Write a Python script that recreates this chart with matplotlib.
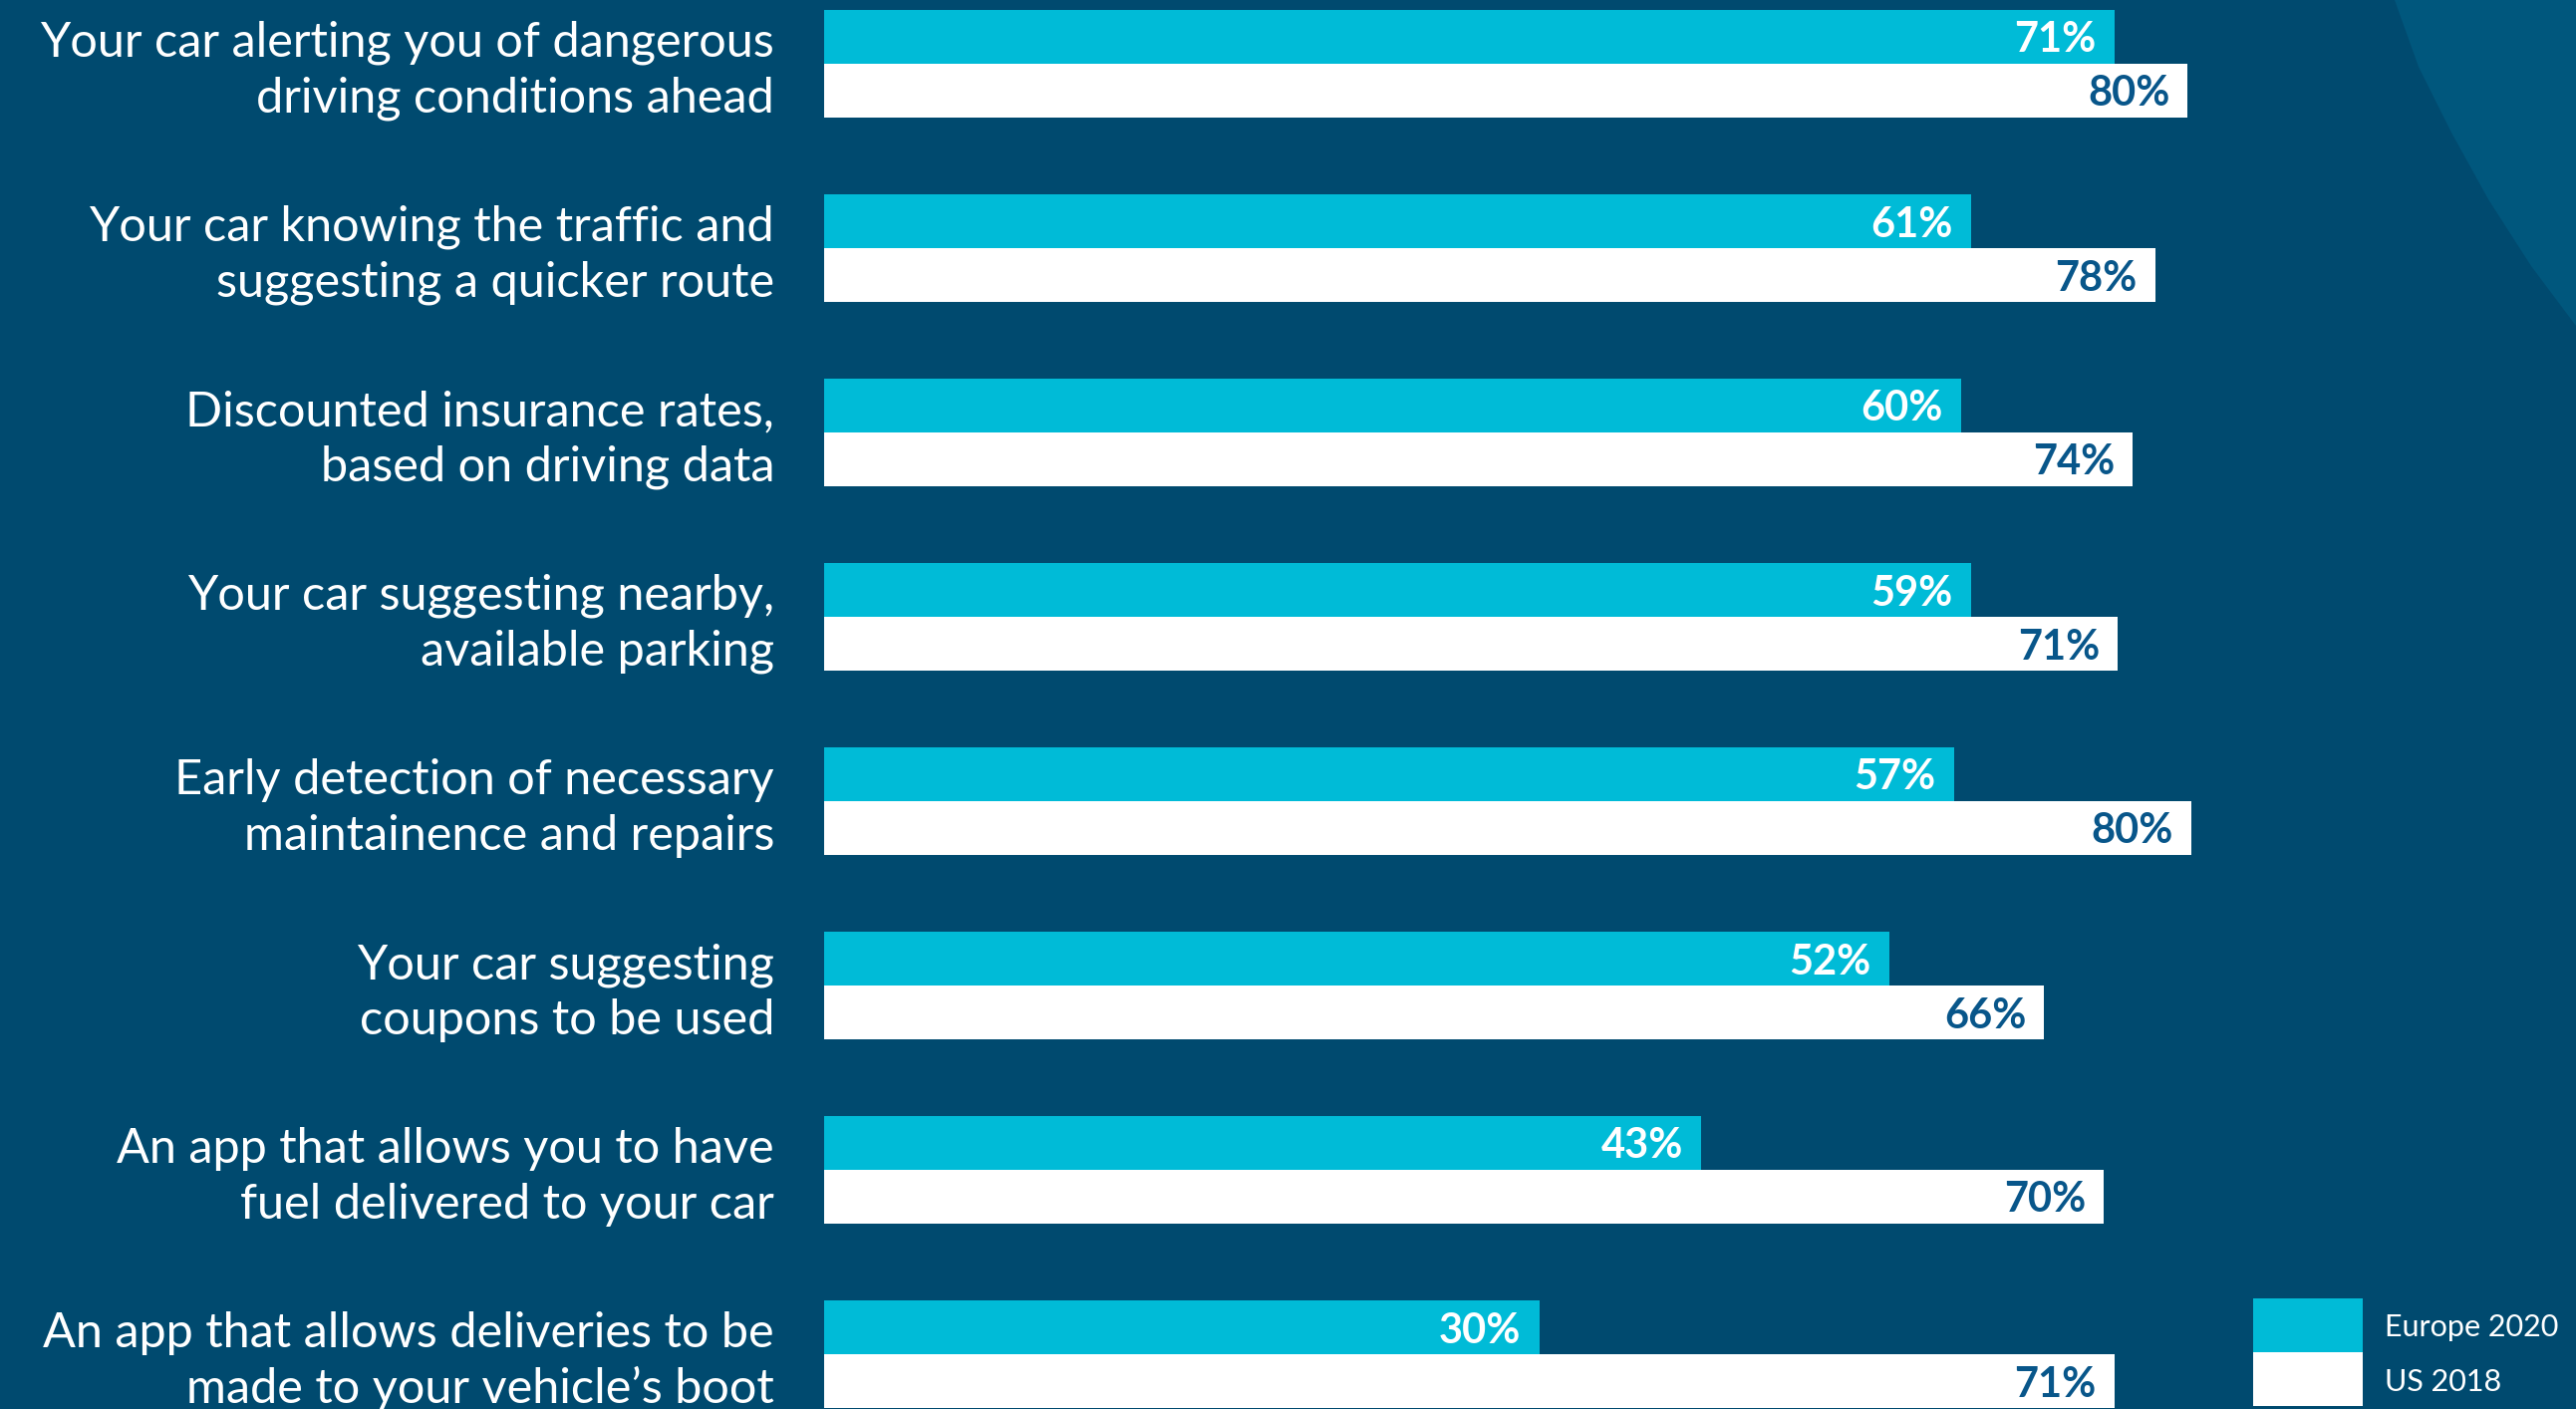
import matplotlib
matplotlib.use("Agg")
import matplotlib.pyplot as plt
from matplotlib.patches import Rectangle, Polygon

# categories, top to bottom
categories = [
    "Your car alerting you of dangerous\ndriving conditions ahead",
    "Your car knowing the traffic and\nsuggesting a quicker route",
    "Discounted insurance rates,\nbased on driving data",
    "Your car suggesting nearby,\navailable parking",
    "Early detection of necessary\nmaintainence and repairs",
    "Your car suggesting\ncoupons to be used",
    "An app that allows you to have\nfuel delivered to your car",
    "An app that allows deliveries to be\nmade to your vehicle\u2019s boot",
]

# printed values
europe_pct = [71, 61, 60, 59, 57, 52, 43, 30]
us_pct = [80, 78, 74, 71, 80, 66, 70, 71]

# bar lengths as drawn in the source (not to scale with the printed values)
europe_drawn = [75.6, 67.2, 66.6, 67.2, 66.2, 62.4, 51.4, 41.9]
us_drawn = [79.9, 78.0, 76.7, 75.8, 80.1, 71.5, 75.0, 75.6]

series_names = ["Europe 2020", "US 2018"]

BG = "#004A6F"
BG_LIGHT = "#00577D"
CYAN = "#00BBD7"
WHITE = "#FFFFFF"
DARK_TXT = "#08568A"

W, H = 2585, 1414
fig = plt.figure(figsize=(W / 100, H / 100), dpi=100)
fig.patch.set_facecolor(BG)

# lighter swoosh in the top right corner
swoosh = [(2403, 0), (2427, 67), (2460, 133), (2497, 200), (2540, 267),
          (2585, 327), (2585, 0)]
fig.patches.append(Polygon([(x / W, 1 - y / H) for x, y in swoosh],
                           closed=True, transform=fig.transFigure,
                           facecolor=BG_LIGHT, edgecolor="none", zorder=0))

px_per_unit = 17.125
left_px = 827
pitch = 185.0
first_center = 64.0
ax = fig.add_axes([left_px / W, 0, (W - left_px) / W, 1])
ax.set_xlim(0, (W - left_px) / px_per_unit)
ax.set_ylim((H - first_center) / pitch, -first_center / pitch)
ax.axis("off")
ax.patch.set_alpha(0)

bh = 54 / pitch
ys = list(range(len(categories)))
ax.barh([y - bh / 2 for y in ys], europe_drawn, height=bh, color=CYAN)
ax.barh([y + bh / 2 for y in ys], us_drawn, height=bh, color=WHITE)

pad = 18 / px_per_unit
for y, v, d in zip(ys, europe_pct, europe_drawn):
    ax.text(d - pad, y - bh / 2, "%d%%" % v, ha="right", va="center_baseline",
            color=WHITE, fontsize=30, fontweight="bold", family="Lato")
for y, v, d in zip(ys, us_pct, us_drawn):
    ax.text(d - pad, y + bh / 2, "%d%%" % v, ha="right", va="center_baseline",
            color=DARK_TXT, fontsize=30, fontweight="bold", family="Lato")

for y, c in zip(ys, categories):
    ax.text(-50 / px_per_unit, y + 7 / pitch, c, ha="right", va="center",
            color=WHITE, fontsize=35, family="Lato",
            linespacing=1.31, clip_on=False)

# legend
for i, (name, col) in enumerate(zip(series_names, [CYAN, WHITE])):
    top = 1303 + i * 54
    fig.patches.append(Rectangle((2261 / W, 1 - (top + 54) / H), 110 / W, 54 / H,
                                 transform=fig.transFigure, facecolor=col,
                                 edgecolor="none"))
    fig.text(2393 / W, 1 - (top + 27) / H, name, ha="left", va="center_baseline",
             color=WHITE, fontsize=22, family="Lato")

fig.savefig("out.png", dpi=100, facecolor=BG)
